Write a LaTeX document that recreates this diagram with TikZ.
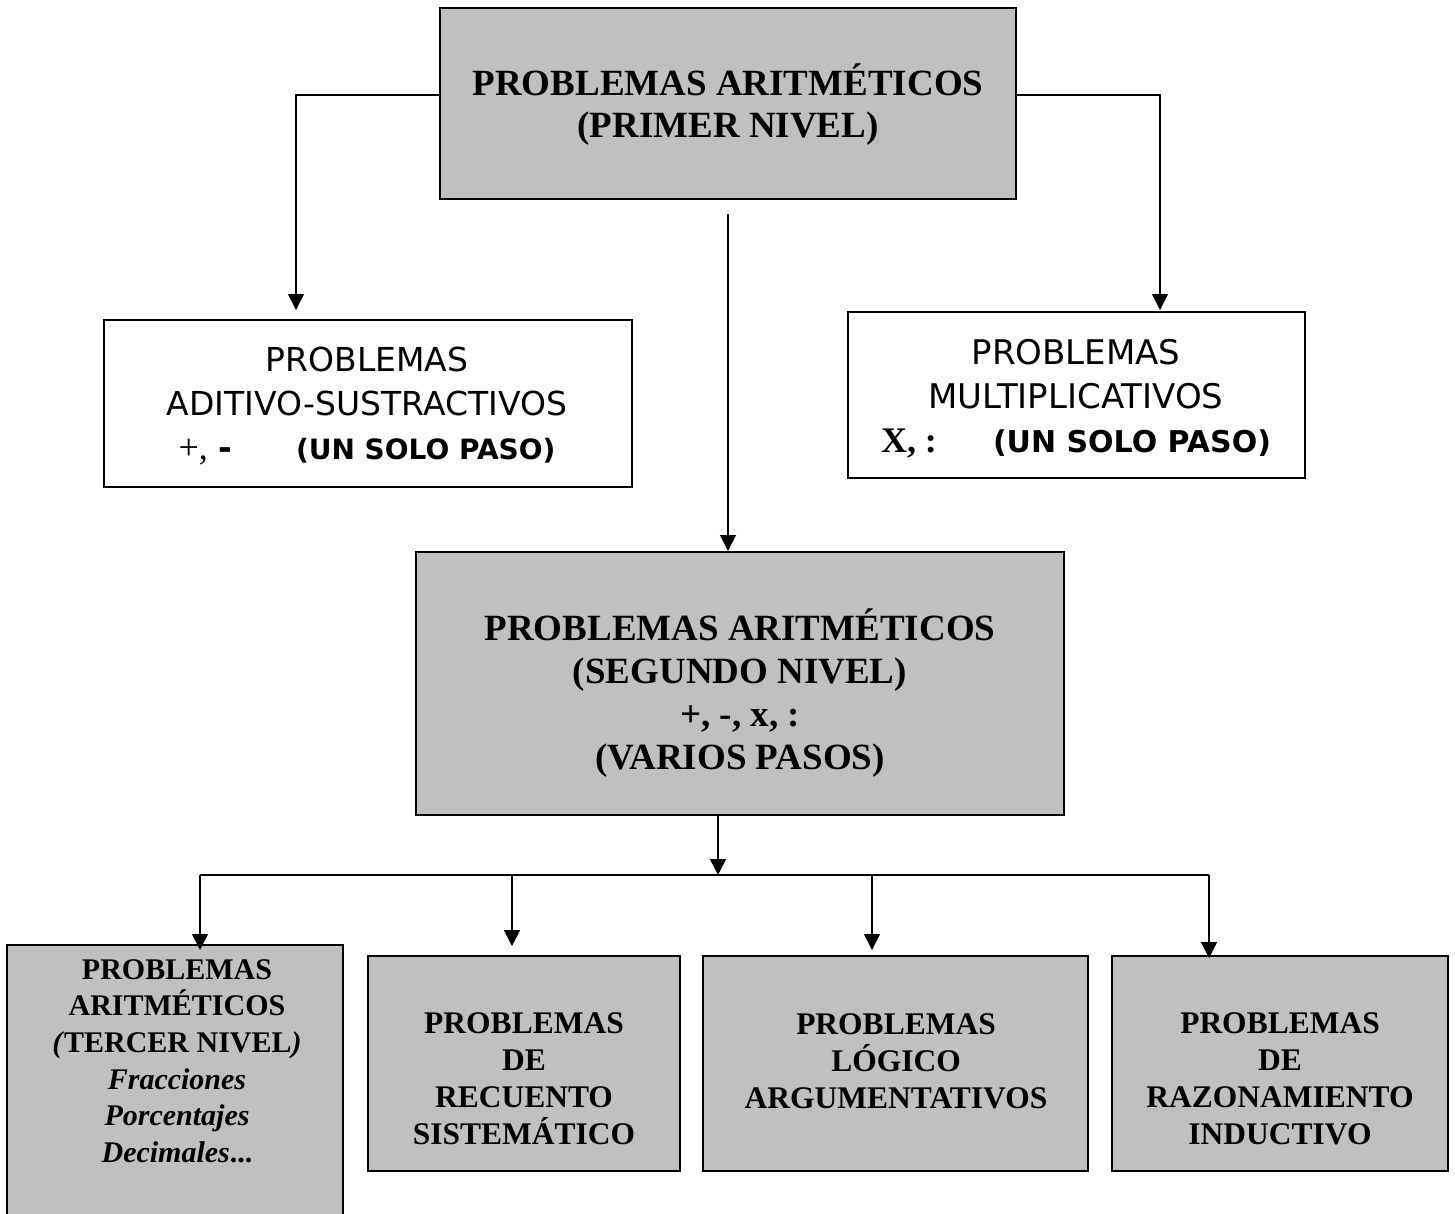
\documentclass[tikz,border=0pt]{standalone}
\usepackage{fontspec}
\setmainfont{Liberation Serif}
\newfontfamily\comic{DejaVu Sans}
\usetikzlibrary{arrows.meta,calc}
\definecolor{boxgray}{HTML}{C0C0C0}
\tikzset{
  gbox/.style={draw=black, line width=2pt, fill=boxgray, inner sep=0pt},
  wbox/.style={draw=black, line width=1.8pt, fill=white, inner sep=0pt},
  lbl/.style={align=center, inner sep=0pt},
  conn/.style={draw=black, line width=1.6pt, -{Triangle[length=16pt,width=16pt]}},
  wire/.style={draw=black, line width=1.6pt},
}
\begin{document}
\begin{tikzpicture}[x=1pt,y=-1pt]
\useasboundingbox (0,0) rectangle (1455,1213);

% top box
\node[gbox, minimum width=576pt, minimum height=191pt] (top) at (728,103.5) {};
\node[lbl, font=\fontsize{37}{42}\selectfont\bfseries] (toptxt) at (728,105)
  {PROBLEMAS ARITMÉTICOS\\(PRIMER NIVEL)};

% white boxes
\node[wbox, minimum width=528pt, minimum height=167pt] (add) at (368,403.5) {};
\node[lbl, font=\comic\fontsize{33}{44}\selectfont] (addtxt) at (367,406)
  {PROBLEMAS\\ADITIVO-SUSTRACTIVOS\\
   {\rmfamily\fontsize{36}{46}\selectfont +,} {\bfseries -}\hspace{64pt}{\bfseries\fontsize{28}{46}\selectfont (UN SOLO PASO)}};

\node[wbox, minimum width=457pt, minimum height=166pt] (mul) at (1076.5,395) {};
\node[lbl, font=\comic\fontsize{34}{44}\selectfont] (multxt) at (1076,399)
  {PROBLEMAS\\MULTIPLICATIVOS\\
   {\rmfamily\bfseries\fontsize{36}{46}\selectfont X, :}\hspace{56pt}{\bfseries\fontsize{30}{46}\selectfont (UN SOLO PASO)}};

% middle box
\node[gbox, minimum width=648pt, minimum height=263pt] (mid) at (740,683.5) {};
\node[lbl, font=\fontsize{37}{43}\selectfont\bfseries] (midtxt) at (740,693)
  {PROBLEMAS ARITMÉTICOS\\(SEGUNDO NIVEL)\\+, -, x, :\\(VARIOS PASOS)};

% bottom boxes
\node[gbox, minimum width=336pt, minimum height=300pt] (b1) at (175,1095) {};
\node[lbl, font=\fontsize{30}{36.6}\selectfont\bfseries] (b1txt) at (177,1061)
  {PROBLEMAS\\ARITMÉTICOS\\\textit{(}TERCER NIVEL\textit{)}\\\textit{Fracciones}\\\textit{Porcentajes}\\\textit{Decimales}\textup{...}};

\node[gbox, minimum width=312pt, minimum height=215pt] (b2) at (524,1063.5) {};
\node[lbl, font=\fontsize{31.5}{37}\selectfont\bfseries] (b2txt) at (524,1079)
  {PROBLEMAS\\DE\\RECUENTO\\SISTEMÁTICO};

\node[gbox, minimum width=385pt, minimum height=215pt] (b3) at (895.5,1063.5) {};
\node[lbl, font=\fontsize{31.5}{37}\selectfont\bfseries] (b3txt) at (896,1061)
  {PROBLEMAS\\LÓGICO\\ARGUMENTATIVOS};

\node[gbox, minimum width=336pt, minimum height=215pt] (b4) at (1280,1063.5) {};
\node[lbl, font=\fontsize{31.5}{37}\selectfont\bfseries] (b4txt) at (1280,1079)
  {PROBLEMAS\\DE\\RAZONAMIENTO\\INDUCTIVO};

% connector coordinates
\coordinate (tipA) at (296,310);
\coordinate (tipB) at (1160,310);
\coordinate (cstart) at (728,214);
\coordinate (busC) at (718,875);
\coordinate (busL) at (200,875);
\coordinate (d2) at (512,875);
\coordinate (d3) at (872,875);
\coordinate (busR) at (1209,875);
\coordinate (tip1) at (200,950);
\coordinate (tip2) at (512,946);
\coordinate (tip3) at (872,950);
\coordinate (tip4) at (1209,958);

% connectors
\draw[conn] ([yshift=8.5pt]top.west) -| (tipA);
\draw[conn] ([yshift=8.5pt]top.east) -| (tipB);
\draw[conn] (cstart) -- (cstart |- mid.north);
\draw[conn] (busC |- mid.south) -- (busC);
\draw[wire] (busL) -- (busR);
\draw[conn] (busL) -- (tip1);
\draw[conn] (d2) -- (tip2);
\draw[conn] (d3) -- (tip3);
\draw[conn] (busR) -- (tip4);
\end{tikzpicture}
\end{document}
